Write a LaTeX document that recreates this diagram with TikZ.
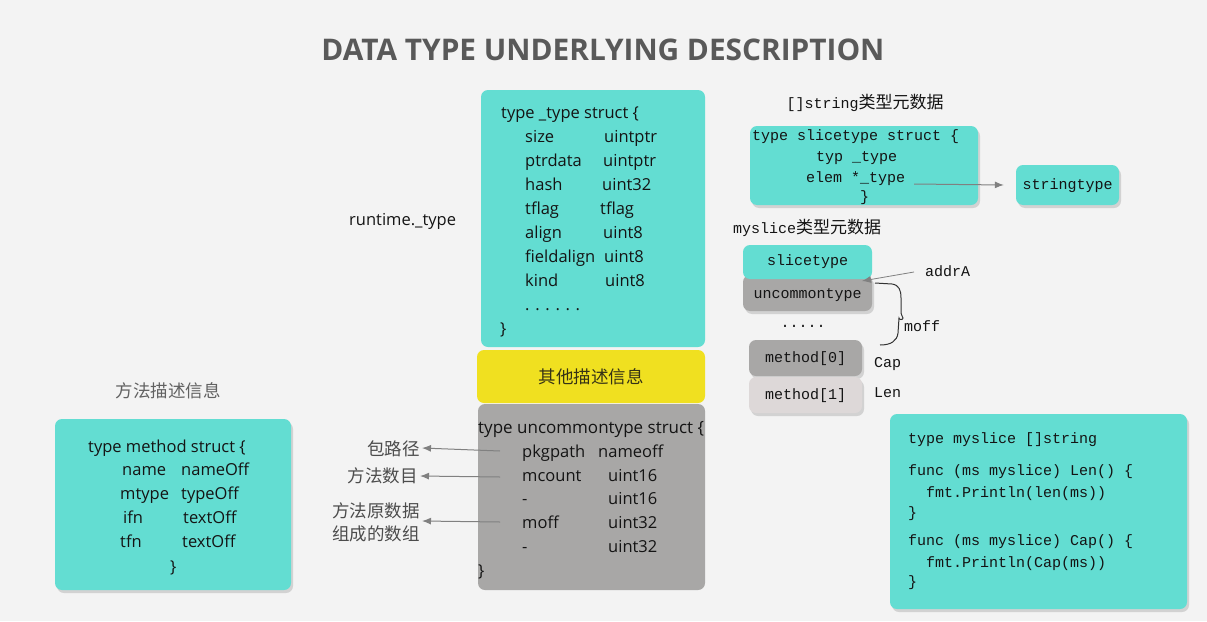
\documentclass[tikz,border=0pt]{standalone}
\usepackage{fontspec}
\setmainfont{Open Sans}
\newfontfamily\cjk{Noto Sans CJK SC}
\newfontfamily\mono{Liberation Mono}
\usetikzlibrary{shadows,arrows.meta}
\definecolor{bgc}{RGB}{243,243,243}
\definecolor{teal1}{RGB}{99,221,210}
\definecolor{gray1}{RGB}{168,167,166}
\definecolor{gray2}{RGB}{221,216,216}
\definecolor{yel}{RGB}{240,224,32}
\definecolor{titlec}{RGB}{89,89,89}
\definecolor{arrc}{RGB}{128,128,128}
\definecolor{txt}{RGB}{20,20,20}
\tikzset{
  box/.style={rounded corners=7pt, inner sep=0pt, draw=none},
  tealbox/.style={box, fill=teal1},
  graybox/.style={box, fill=gray1},
  shad/.style={drop shadow={opacity=0.28, shadow xshift=2pt, shadow yshift=-3pt}},
  sans/.style={font=\fontsize{16.5}{20}\selectfont, text=txt, inner sep=0pt, anchor=base west},
  code/.style={font=\mono\fontsize{15}{17}\selectfont, text=txt, inner sep=0pt, anchor=base west},
  ccode/.style={font=\mono\fontsize{15}{17}\selectfont, text=txt, inner sep=0pt, anchor=center},
  cn/.style={font=\cjk\fontsize{17.5}{20}\selectfont, inner sep=0pt},
  arr/.style={draw=arrc, line width=1pt, -{Latex[length=9pt,width=7pt]}},
}
\begin{document}
\begin{tikzpicture}[x=1pt,y=-1pt]
\path[fill=bgc] (0,0) rectangle (1207,621);
\useasboundingbox (0,0) rectangle (1207,621);

% title
\node[font=\bfseries\fontsize{29.8}{32}\selectfont, text=titlec, inner sep=0pt] (title) at (603,50) {DATA TYPE UNDERLYING DESCRIPTION};

% _type box
\node[tealbox, minimum width=224pt, minimum height=257pt] (typebox) at (593,218.5) {};
\node[sans] (t0) at (501,118) {type \_type struct \{};
\node[sans] (t1a) at (525,142) {size};      \node[sans] (t1b) at (604,142) {uintptr};
\node[sans] (t2a) at (525,166) {ptrdata};   \node[sans] (t2b) at (603,166) {uintptr};
\node[sans] (t3a) at (525,190) {hash};      \node[sans] (t3b) at (602,190) {uint32};
\node[sans] (t4a) at (525,214) {tflag};     \node[sans] (t4b) at (600,214) {tflag};
\node[sans] (t5a) at (525,238) {align};     \node[sans] (t5b) at (603,238) {uint8};
\node[sans] (t6a) at (525,262) {fieldalign};\node[sans] (t6b) at (604,262) {uint8};
\node[sans] (t7a) at (525,286) {kind};      \node[sans] (t7b) at (605,286) {uint8};
\node[sans] (t8) at (525,310) {. . . . . .};
\node[sans] (t9) at (500,334) {\}};
\node[sans] (rt) at (349,225) {runtime.\_type};

% yellow box
\node[box, fill=yel, minimum width=228pt, minimum height=53pt] (other) at (591,376.5) {};
\node[cn, text=txt!85!yel] (otherlbl) at (591,377) {其他描述信息};

% uncommontype box
\node[graybox, minimum width=227pt, minimum height=186pt] (uncbox) at (591.5,497) {};
\node[sans, font=\fontsize{17}{20}\selectfont] (u0) at (478,433) {type uncommontype struct \{};
\node[sans] (u1a) at (522,457) {pkgpath};  \node[sans] (u1b) at (598,457) {nameoff};
\node[sans] (u2a) at (522,481) {mcount};   \node[sans] (u2b) at (608,481) {uint16};
\node[sans] (u3a) at (522,504) {-};        \node[sans] (u3b) at (608,504) {uint16};
\node[sans] (u4a) at (522,528) {moff};     \node[sans] (u4b) at (608,528) {uint32};
\node[sans] (u5a) at (522,552) {-};        \node[sans] (u5b) at (608,552) {uint32};
\node[sans] (u6) at (478,576) {\}};

% left labels + arrows
\node[cn, text=black!70, anchor=east] (pkgl) at (420,449) {包路径};
\node[cn, text=black!70, anchor=east] (mcl) at (418,476) {方法数目};
\node[cn, text=black!70, anchor=east, align=center, font=\cjk\fontsize{17.5}{23}\selectfont] (mofl) at (420,522) {方法原数据\\组成的数组};
\coordinate (pA) at (500,451);
\coordinate (mA) at (500,477);
\coordinate (oA) at (500,522);
\draw[arr] (pA) -- ([xshift=2pt,yshift=1pt]pkgl.east);
\draw[arr] (mA) -- ([xshift=2pt]mcl.east);
\draw[arr] (oA) -- ([xshift=2pt,yshift=1pt]mofl.east);

% method box
\node[cn, text=black!62] (mdesc) at (168,391) {方法描述信息};
\node[tealbox, shad, minimum width=236pt, minimum height=171pt] (methbox) at (173,504.5) {};
\node[sans] (m0) at (88,452) {type method struct \{};
\node[sans] (m1a) at (122,475) {name};  \node[sans] (m1b) at (181,475) {nameOff};
\node[sans] (m2a) at (120,499) {mtype}; \node[sans] (m2b) at (181,499) {typeOff};
\node[sans] (m3a) at (123,523) {ifn};   \node[sans] (m3b) at (183,523) {textOff};
\node[sans] (m4a) at (120,547) {tfn};   \node[sans] (m4b) at (182,547) {textOff};
\node[sans] (m5) at (170,572) {\}};

% []string metadata
\node[inner sep=0pt, text=txt] (strmeta) at (865,103) {{\mono\fontsize{15}{18}\selectfont []string}{\cjk\fontsize{17}{18}\selectfont 类型元数据}};
\node[tealbox, shad, minimum width=228pt, minimum height=79pt] (slbox) at (864,165.5) {};
\node[code] (s0) at (752,140) {type slicetype struct \{};
\node[code] (s1) at (816,161) {typ \_type};
\node[code] (s2) at (806,182) {elem *\_type};
\node[code] (s3) at (860,201) {\}};
\node[tealbox, shad, minimum width=103pt, minimum height=40pt] (strtype) at (1067.5,185) {};
\node[ccode] (strtypel) at (1067.5,186) {stringtype};
\coordinate (elemA) at (914,184);
\draw[arr] (elemA) -- ([xshift=-12pt]strtype.west);

% myslice metadata
\node[inner sep=0pt, text=txt] (mymeta) at (807,228) {{\mono\fontsize{15}{18}\selectfont myslice}{\cjk\fontsize{17}{18}\selectfont 类型元数据}};
\node[graybox, shad, minimum width=129pt, minimum height=36pt] (uncs) at (807.5,293) {};
\node[tealbox, minimum width=129pt, minimum height=34pt] (slcs) at (807.5,262) {};
\node[ccode] (slcsl) at (807.5,262) {slicetype};
\node[ccode] (uncsl) at (807.5,295) {uncommontype};
\node[ccode] (dots) at (803,326) {.....};
\node[graybox, shad, minimum width=113pt, minimum height=36pt] (m0s) at (805.5,358) {};
\node[box, fill=gray2, shad, minimum width=113pt, minimum height=36pt] (m1s) at (805.5,395) {};
\node[ccode] (m0sl) at (805.5,359) {method[0]};
\node[ccode] (m1sl) at (805.5,396) {method[1]};
\node[code] (addr) at (925,276) {addrA};
\node[code] (moffl) at (904,331) {moff};
\node[code] (capl) at (874,367) {Cap};
\node[code] (lenl) at (874,397) {Len};
\coordinate (addrS) at (914,272);
\coordinate (addrT) at (862,281);
\draw[arr, line width=0.8pt] (addrS) -- (addrT);
% hand brace
\coordinate (brA) at (875,283);
\coordinate (brB) at (880,345);
\draw[black!80, line width=1pt] (brA) -- (892,284) .. controls (899,285) and (901,290) .. (901,298)
  -- (901,313) .. controls (901,316) and (903,316) .. (903,318)
  .. controls (903,320) and (899,320) .. (899,318)
  -- (898,333) .. controls (897,341) and (891,345) .. (brB);

% myslice code box
\node[tealbox, shad, minimum width=297pt, minimum height=195pt] (codebox) at (1038.5,511.5) {};
\node[code] (c0) at (908,443) {type myslice []string};
\node[code] (c1) at (908,475) {func (ms myslice) Len() \{};
\node[code] (c2) at (926,497) {fmt.Println(len(ms))};
\node[code] (c3) at (908,517) {\}};
\node[code] (c4) at (908,545) {func (ms myslice) Cap() \{};
\node[code] (c5) at (926,567) {fmt.Println(Cap(ms))};
\node[code] (c6) at (908,586) {\}};
\end{tikzpicture}
\end{document}
